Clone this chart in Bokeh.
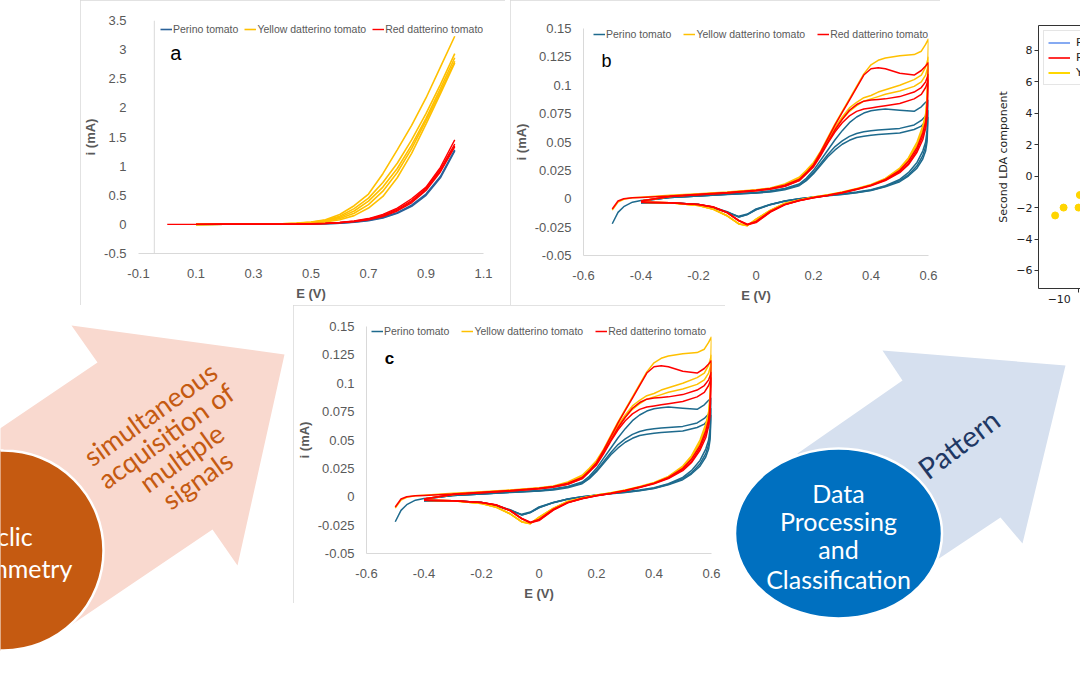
import math
from bokeh.plotting import figure
from bokeh.layouts import row, column
from bokeh.models import (Range1d, FixedTicker, CustomJSTickFormatter, Span, Label,
                          Legend, LegendItem, LinearAxis, Spacer)
from bokeh.embed import file_html
from bokeh.resources import INLINE
from bokeh.core.properties import value

nan = float("nan")

# ---------------- DATA ----------------
# panel a : linear sweeps, E (V) vs i (mA)
lsv_E = [0.0, 0.1, 0.2, 0.3, 0.4, 0.45, 0.5, 0.55, 0.6, 0.65, 0.7, 0.75, 0.8, 0.85, 0.9, 0.95, 1.0]
lsv_perino = [
    [nan, 0.0, 0.001, 0.002, 0.003, 0.004, 0.006, 0.012, 0.022, 0.04, 0.07, 0.12, 0.2, 0.33, 0.52, 0.82, 1.28],
    [nan, 0.0, 0.001, 0.002, 0.003, 0.004, 0.006, 0.011, 0.02, 0.037, 0.065, 0.11, 0.19, 0.31, 0.5, 0.8, 1.26],
]
lsv_yellow = [
    [nan, 0.0, 0.002, 0.005, 0.012, 0.022, 0.04, 0.08, 0.17, 0.32, 0.52, 0.87, 1.28, 1.70, 2.17, 2.70, 3.23],
    [nan, 0.0, 0.002, 0.004, 0.01, 0.018, 0.035, 0.07, 0.14, 0.27, 0.45, 0.72, 1.05, 1.45, 1.9, 2.4, 2.93],
    [nan, 0.0, 0.002, 0.004, 0.009, 0.016, 0.03, 0.06, 0.12, 0.23, 0.4, 0.64, 0.96, 1.36, 1.82, 2.33, 2.86],
    [nan, 0.0, 0.002, 0.004, 0.008, 0.014, 0.025, 0.05, 0.1, 0.19, 0.34, 0.57, 0.89, 1.3, 1.78, 2.28, 2.80],
    [nan, 0.0, 0.001, 0.003, 0.007, 0.012, 0.02, 0.04, 0.08, 0.15, 0.28, 0.48, 0.8, 1.22, 1.72, 2.24, 2.77],
]
lsv_red = [
    [0.0, 0.0, 0.001, 0.002, 0.004, 0.006, 0.01, 0.02, 0.035, 0.06, 0.1, 0.17, 0.28, 0.44, 0.64, 0.98, 1.45],
    [nan, 0.0, 0.001, 0.002, 0.004, 0.006, 0.009, 0.018, 0.032, 0.055, 0.092, 0.155, 0.26, 0.41, 0.62, 0.95, 1.38],
    [nan, 0.0, 0.001, 0.002, 0.004, 0.005, 0.008, 0.016, 0.03, 0.05, 0.085, 0.145, 0.245, 0.39, 0.6, 0.92, 1.35],
    [nan, 0.0, 0.001, 0.002, 0.003, 0.005, 0.008, 0.015, 0.028, 0.048, 0.08, 0.135, 0.23, 0.37, 0.58, 0.9, 1.33],
]

# panels b and c : cyclic voltammograms (forward + reverse branch)
cv_E_fwd = [-0.5, -0.48, -0.46, -0.43, -0.4, -0.3, -0.2, -0.1, 0.0, 0.05,
            0.1, 0.15, 0.175, 0.2, 0.225, 0.25, 0.275, 0.3, 0.325, 0.35, 0.375,
            0.4, 0.425, 0.45, 0.5, 0.55, 0.575, 0.59, 0.6]
cv_E_rev = [0.6, 0.595, 0.59, 0.58, 0.56, 0.53, 0.5, 0.45, 0.4, 0.35, 0.3, 0.25, 0.2,
            0.15, 0.1, 0.05, 0.0, -0.03, -0.06, -0.1, -0.15, -0.2, -0.3, -0.4]
cv_perino_fwd = [
    [-0.022, -0.012, -0.007, -0.003, -0.0015, 0.001, 0.0025, 0.004, 0.0055, 0.007,
     0.009, 0.013, 0.018, 0.025, 0.034, 0.043, 0.052, 0.06, 0.067, 0.072, 0.0755,
     0.0775, 0.0785, 0.079, 0.078, 0.077, 0.081, 0.085, 0.087],
    [nan, nan, nan, nan, -0.002, 0.001, 0.0025, 0.004, 0.005, 0.0065,
     0.0085, 0.012, 0.0165, 0.023, 0.031, 0.039, 0.046, 0.051, 0.055, 0.0575, 0.059,
     0.06, 0.0605, 0.061, 0.062, 0.065, 0.069, 0.073, 0.078],
    [nan, nan, nan, nan, -0.002, 0.001, 0.0025, 0.0038, 0.005, 0.006,
     0.008, 0.0115, 0.016, 0.022, 0.0295, 0.037, 0.043, 0.048, 0.0515, 0.054, 0.055,
     0.056, 0.0565, 0.057, 0.058, 0.061, 0.064, 0.068, 0.072],
]
cv_perino_rev = [
    [0.087, 0.06, 0.05, 0.042, 0.032, 0.023, 0.017, 0.0115, 0.008, 0.006, 0.0045, 0.003, 0.0015, 0.0, -0.002, -0.005, -0.009, -0.0135, -0.0155, -0.012, -0.008, -0.005, -0.0035, -0.0035],
    [0.078, 0.055, 0.046, 0.038, 0.029, 0.021, 0.016, 0.011, 0.0075, 0.0055, 0.004, 0.0028, 0.0014, 0.0, -0.002, -0.005, -0.0095, -0.0138, -0.016, -0.0115, -0.0075, -0.005, -0.0035, -0.0035],
    [0.072, 0.05, 0.042, 0.035, 0.027, 0.02, 0.015, 0.0105, 0.0072, 0.0053, 0.0038, 0.0027, 0.0013, -0.0002, -0.0022, -0.0052, -0.0098, -0.014, -0.0162, -0.0118, -0.0078, -0.005, -0.0035, -0.0035],
]
cv_yellow_fwd = [
    [-0.01, -0.003, -0.0005, 0.0008, 0.0013, 0.003, 0.0045, 0.006, 0.008, 0.0095,
     0.013, 0.019, 0.025, 0.032, 0.042, 0.054, 0.066, 0.077, 0.088, 0.099, 0.11,
     0.118, 0.122, 0.124, 0.126, 0.127, 0.13, 0.136, 0.141],
    [nan, nan, nan, nan, -0.002, 0.002, 0.004, 0.0055, 0.0075, 0.009,
     0.012, 0.018, 0.024, 0.031, 0.041, 0.052, 0.063, 0.072, 0.08, 0.085, 0.089,
     0.091, 0.094, 0.096, 0.1, 0.105, 0.109, 0.116, 0.125],
    [nan, nan, nan, nan, -0.002, 0.002, 0.004, 0.0055, 0.0075, 0.009,
     0.012, 0.018, 0.024, 0.031, 0.04, 0.051, 0.061, 0.07, 0.077, 0.082, 0.086,
     0.088, 0.09, 0.092, 0.095, 0.099, 0.103, 0.109, 0.118],
]
cv_yellow_rev = [
    [0.141, 0.09, 0.075, 0.064, 0.05, 0.036, 0.027, 0.018, 0.0125, 0.009, 0.006, 0.0035, 0.0015, -0.001, -0.004, -0.01, -0.018, -0.0235, -0.022, -0.015, -0.009, -0.006, -0.0035, -0.003],
    [0.125, 0.085, 0.072, 0.061, 0.048, 0.035, 0.026, 0.0175, 0.012, 0.0087, 0.0058, 0.0034, 0.0014, -0.0012, -0.0042, -0.0102, -0.0182, -0.0238, -0.0222, -0.0152, -0.0092, -0.006, -0.0035, -0.003],
    [0.118, 0.082, 0.07, 0.06, 0.047, 0.034, 0.026, 0.0172, 0.0118, 0.0085, 0.0057, 0.0033, 0.0013, -0.0013, -0.0043, -0.0103, -0.0183, -0.0237, -0.0221, -0.015, -0.009, -0.006, -0.0035, -0.003],
]
cv_red_fwd = [
    [-0.009, -0.002, 0.0, 0.0008, 0.0012, 0.0025, 0.004, 0.0055, 0.0075, 0.009,
     0.012, 0.017, 0.023, 0.03, 0.041, 0.053, 0.065, 0.076, 0.087, 0.098, 0.109,
     0.1145, 0.1155, 0.1145, 0.1105, 0.109, 0.113, 0.117, 0.12],
    [nan, nan, nan, nan, -0.002, 0.002, 0.0035, 0.005, 0.007, 0.0085,
     0.011, 0.016, 0.022, 0.029, 0.039, 0.05, 0.061, 0.07, 0.078, 0.083, 0.086,
     0.087, 0.0875, 0.088, 0.09, 0.094, 0.098, 0.103, 0.11],
    [nan, nan, nan, nan, -0.002, 0.002, 0.0035, 0.005, 0.007, 0.0085,
     0.011, 0.016, 0.022, 0.028, 0.038, 0.049, 0.059, 0.067, 0.073, 0.077, 0.079,
     0.08, 0.081, 0.082, 0.084, 0.088, 0.092, 0.098, 0.105],
]
cv_red_rev = [
    [0.12, 0.08, 0.068, 0.058, 0.045, 0.033, 0.025, 0.017, 0.012, 0.0085, 0.0055, 0.003, 0.001, -0.0015, -0.005, -0.011, -0.02, -0.0225, -0.019, -0.012, -0.007, -0.005, -0.0035, -0.003],
    [0.11, 0.075, 0.064, 0.055, 0.043, 0.031, 0.024, 0.0165, 0.0118, 0.0083, 0.0053, 0.0029, 0.0009, -0.0016, -0.0052, -0.0115, -0.0205, -0.0228, -0.0192, -0.0122, -0.0072, -0.005, -0.0035, -0.003],
    [0.105, 0.072, 0.062, 0.052, 0.041, 0.03, 0.023, 0.016, 0.0115, 0.0081, 0.0052, 0.0028, 0.0008, -0.0017, -0.0054, -0.0118, -0.021, -0.023, -0.0195, -0.0124, -0.0073, -0.005, -0.0035, -0.003],
]

series_names = ["Perino tomato", "Yellow datterino tomato", "Red datterino tomato"]

# LDA scores (only the visible part)
lda_x = [-11.8, -11.15, -10.0, -9.9]
lda_y = [-2.5, -2.0, -2.0, -1.2]
lda_names = ["Perino", "Red datterino", "Yellow datterino"]

# tick labels
lsv_xticks = [-0.1, 0.1, 0.3, 0.5, 0.7, 0.9, 1.1]
lsv_yticks = [-0.5, 0, 0.5, 1, 1.5, 2, 2.5, 3, 3.5]
cv_xticks = [-0.6, -0.4, -0.2, 0, 0.2, 0.4, 0.6]
cv_yticks = [-0.05, -0.025, 0, 0.025, 0.05, 0.075, 0.1, 0.125, 0.15]
lda_yticks = [-6, -4, -2, 0, 2, 4, 6, 8]
lda_xticks = [-10]

# flow-diagram texts
left_circle_text = ["Cyclic", "Voltammetry"]
arrow1_text = ["simultaneous", "acquisition of", "multiple", "signals"]
right_ellipse_text = ["Data", "Processing", "and", "Classification"]
arrow2_text = ["Pattern"]

# ---------------- STYLE ----------------
GRAY = "#595959"
FONT = "Liberation Sans"
BLUE_A = "#2a6199"
BLUE_B = "#1e6a8d"
YEL = "#ffc000"
RED = "#ff0000"
BOX = {"outline": "1px solid #d9d9d9", "outline-offset": "-1px"}


def plain_fmt():
    return CustomJSTickFormatter(code="return String(Math.round(tick*1000)/1000);")


def excel_style(p, xticks, yticks):
    p.xaxis.ticker = FixedTicker(ticks=xticks)
    p.yaxis.ticker = FixedTicker(ticks=yticks)
    for ax in (p.xaxis[0], p.yaxis[0]):
        ax.formatter = plain_fmt()
        ax.major_tick_line_color = None
        ax.minor_tick_line_color = None
        ax.major_label_text_font = FONT
        ax.major_label_text_font_size = "13px"
        ax.major_label_text_color = GRAY
        ax.axis_label_text_font = FONT
        ax.axis_label_text_font_size = "13px"
        ax.axis_label_text_font_style = "bold"
        ax.axis_label_text_color = GRAY
        ax.axis_line_color = "#d9d9d9"
    p.xaxis[0].major_label_standoff = 9
    p.xaxis[0].axis_label_standoff = 5
    p.yaxis[0].major_label_standoff = 6
    p.yaxis[0].axis_label_standoff = 3
    p.grid.visible = False
    p.outline_line_color = None
    p.background_fill_color = "white"


def excel_legend(p, renderers, loc, spacing):
    items = [LegendItem(label=n, renderers=[r]) for n, r in zip(series_names, renderers)]
    lg = Legend(items=items, location=loc, orientation="horizontal",
                background_fill_alpha=0, border_line_color=None, padding=0, margin=0,
                spacing=spacing, glyph_width=12, glyph_height=12, label_height=12,
                label_standoff=1, label_text_font=FONT, label_text_font_size="10.5px",
                label_text_color=GRAY)
    p.add_layout(lg)


# ---------------- PANEL a ----------------
pa = figure(width=425, height=305, x_range=Range1d(-0.1, 1.1), y_range=Range1d(-0.5, 3.5),
            min_border_left=52, min_border_right=22, min_border_top=20, min_border_bottom=52,
            x_axis_label="E (V)", y_axis_label="i (mA)",
            output_backend="svg", toolbar_location=None)
excel_style(pa, lsv_xticks, lsv_yticks)
pa.yaxis[0].axis_line_color = None
pa.add_layout(Span(location=-0.045, dimension="height", line_color="#d9d9d9", line_width=1))
ra = []
r = None
for ys in lsv_perino:
    r = pa.line(lsv_E, ys, line_color=BLUE_A, line_width=1.6)
ra.append(r)
for ys in lsv_yellow:
    r = pa.line(lsv_E, ys, line_color=YEL, line_width=1.6)
ra.append(r)
for ys in lsv_red:
    r = pa.line(lsv_E, ys, line_color=RED, line_width=1.4)
ra.append(r)
excel_legend(pa, ra, (22, 218), 6)
pa.add_layout(Label(x=0.03, y=2.95, text="a", text_font=FONT, text_font_size="20px",
                    text_align="center", text_baseline="middle", text_color="black"))
pa.styles = BOX


# ---------------- PANELS b and c ----------------
def cv_panel(width, height, bl, br, bt, bb, letter, bold, legend_loc, spacing):
    p = figure(width=width, height=height, x_range=Range1d(-0.6, 0.6), y_range=Range1d(-0.05, 0.15),
               min_border_left=bl, min_border_right=br, min_border_top=bt, min_border_bottom=bb,
               x_axis_label="E (V)", y_axis_label="i (mA)",
               output_backend="svg", toolbar_location=None)
    excel_style(p, cv_xticks, cv_yticks)
    rend = []
    for fwd_list, rev_list, col in ((cv_perino_fwd, cv_perino_rev, BLUE_B),
                                    (cv_yellow_fwd, cv_yellow_rev, YEL),
                                    (cv_red_fwd, cv_red_rev, RED)):
        rr = None
        for f, rv in zip(fwd_list, rev_list):
            xs = cv_E_fwd + cv_E_rev[1:]
            ys = f + rv[1:]
            rr = p.line(xs, ys, line_color=col, line_width=1.5)
        rend.append(rr)
    excel_legend(p, rend, legend_loc, spacing)
    p.add_layout(Label(x=-0.52, y=0.1218, text=letter, text_font=FONT,
                       text_font_size="18px" if not bold else "17px",
                       text_font_style="bold" if bold else "normal",
                       text_align="center", text_baseline="middle", text_color="black"))
    p.styles = BOX
    return p


pb = cv_panel(430, 305, 65, 12, 28, 50, "b", False, (10, 215), 12)
pc = cv_panel(432, 298, 71, 14, 21, 50, "c", True, (5, 216), 12)

# ---------------- LDA (cropped) ----------------
pl = figure(width=140, height=305, x_range=Range1d(-13.08, -9.85), y_range=Range1d(-7.15, 9.59),
            min_border_left=98, min_border_right=0, min_border_top=25, min_border_bottom=17,
            y_axis_label="Second LDA component",
            output_backend="svg", toolbar_location=None)
pl.grid.visible = False
pl.outline_line_color = None
pl.yaxis.ticker = FixedTicker(ticks=lda_yticks)
pl.xaxis.ticker = FixedTicker(ticks=lda_xticks)
for ax in (pl.xaxis[0], pl.yaxis[0]):
    ax.formatter = CustomJSTickFormatter(code="return (tick < 0 ? '\u2212' : '') + Math.abs(tick);")
    ax.major_tick_in = 0
    ax.major_tick_out = 4
    ax.minor_tick_line_color = None
    ax.major_tick_line_color = "#333333"
    ax.axis_line_color = "#333333"
    ax.major_label_text_font = "DejaVu Sans"
    ax.major_label_text_font_size = "11px"
    ax.major_label_text_color = "#222222"
    ax.axis_label_text_font = "DejaVu Sans"
    ax.axis_label_text_font_size = "11px"
    ax.axis_label_text_font_style = "normal"
    ax.axis_label_text_color = "#222222"
    ax.major_label_standoff = 2
    ax.axis_label_standoff = 3
top_ax = LinearAxis(major_tick_line_color=None, minor_tick_line_color=None,
                    major_label_text_font_size="0px", axis_line_color="#333333",
                    ticker=FixedTicker(ticks=[]))
pl.add_layout(top_ax, "above")
lb = pl.line([nan], [nan], line_color="#86aaf2", line_width=2)
lr = pl.line([nan], [nan], line_color="#ff3030", line_width=2)
ly = pl.line([nan], [nan], line_color="#ffd700", line_width=2)
pl.scatter(lda_x, lda_y, size=7, color="#ffd500")
lda_leg = Legend(items=[LegendItem(label=n, renderers=[rr]) for n, rr in zip(lda_names, [lb, lr, ly])],
                 location="top_left", background_fill_color="white", background_fill_alpha=0.9,
                 border_line_color="#cccccc", padding=4, margin=5, spacing=0,
                 glyph_width=22, glyph_height=15, label_height=15, label_standoff=6,
                 label_text_font="DejaVu Sans", label_text_font_size="11px", label_text_color="#222222")
pl.add_layout(lda_leg)


# ---------------- flow diagram ----------------
def canvas(w, h, x0, x1, y0, y1):
    p = figure(width=w, height=h, x_range=Range1d(x0, x1), y_range=Range1d(y1, y0),
               x_axis_location=None, y_axis_location=None, min_border=0,
               output_backend="svg", toolbar_location=None)
    p.grid.visible = False
    p.outline_line_color = None
    return p


pL = canvas(293, 370, 0, 293, 305, 675)
pL.patch([-30, 97, 71, 284, 237, 212, 67, 3], [448, 362, 325, 354, 565, 529, 627, 550],
         fill_color="#f9d9cf", line_color=None)
pL.circle(x=[3], y=[550], radius=100, fill_color="#c55a11", line_color="white", line_width=2.5)
pL.text(x=[0, 1], y=[535, 567], text=left_circle_text, text_font=value("Lato"),
        text_font_size="25px", text_color="white", text_align="center", text_baseline="middle")
ang1 = math.radians(35.5)
cx, cy, step = 173, 446, 27
xs1, ys1 = [], []
for k, _ in enumerate(arrow1_text):
    off = (k - 1.5) * step
    xs1.append(cx + off * math.sin(ang1))
    ys1.append(cy + off * math.cos(ang1))
pL.text(x=xs1, y=ys1, text=arrow1_text, angle=ang1, text_font=value("Lato"),
        text_font_size="27px", text_color="#c55a11", text_align="center", text_baseline="middle")

pR = canvas(355, 370, 725, 1080, 305, 675)
pR.patch([797, 902, 882, 1065, 1022, 1000, 880, 840], [453, 380, 350, 365, 543, 517, 597, 540],
         fill_color="#d6e0ef", line_color=None)
pR.ellipse(x=[838], y=[533], width=207, height=170, fill_color="#0070c0",
           line_color="white", line_width=2.5)
pR.text(x=[838] * 4, y=[492, 520, 548, 578], text=right_ellipse_text, text_font=value("Lato"),
        text_font_size="25px", text_color="white", text_align="center", text_baseline="middle")
pR.text(x=[958], y=[443], text=arrow2_text, angle=math.radians(37), text_font=value("Lato"),
        text_font_size="29px", text_color="#1f3864", text_align="center", text_baseline="middle")

# ---------------- layout ----------------
top = row(Spacer(width=80, height=305), column(pa), Spacer(width=5, height=305), column(pb), column(pl))
bottom = row(column(pL), column(pc), column(pR))
layout = column(top, bottom)

open("out.html", "w").write(file_html(layout, INLINE, title="Cyclic voltammetry tomato classification"))
